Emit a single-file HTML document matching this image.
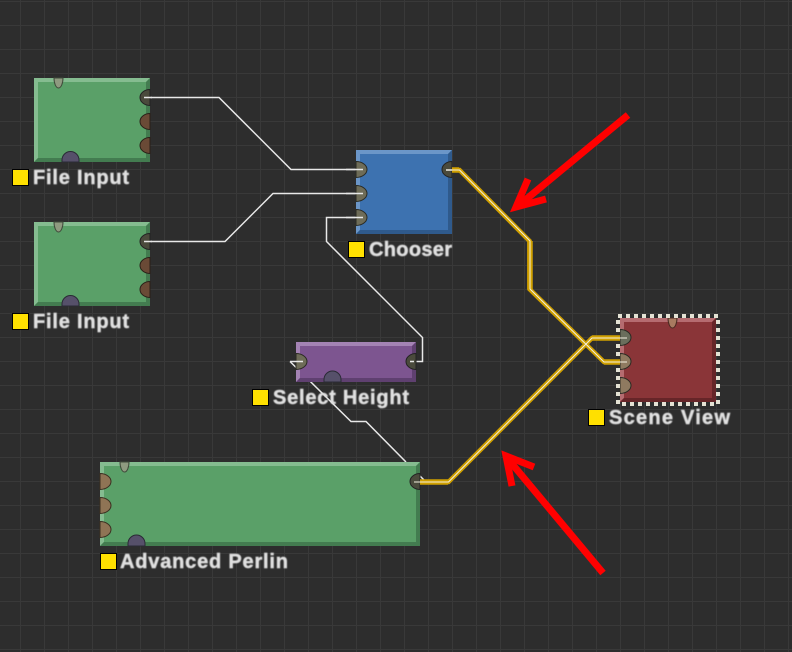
<!DOCTYPE html>
<html><head><meta charset="utf-8"><style>
html,body{margin:0;padding:0;background:#2d2d2d}
svg{display:block}
text{font-family:"Liberation Sans",sans-serif;font-weight:bold;font-size:20px;fill:#e0e0e0;stroke:#e0e0e0;stroke-width:.45px}
</style></head><body>
<svg width="792" height="652" viewBox="0 0 792 652" xmlns="http://www.w3.org/2000/svg">
<defs>
<pattern id="g" width="24" height="24" patternUnits="userSpaceOnUse" x="20" y="1">
<path d="M.5 0V24M0 .5H24" fill="none" stroke="#393939" stroke-width="1"/>
</pattern>
<filter id="b" x="-5%" y="-20%" width="110%" height="140%"><feGaussianBlur stdDeviation=".4"/></filter>
</defs>
<rect width="792" height="652" fill="#2d2d2d"/>
<rect width="792" height="652" fill="url(#g)"/>

<!-- wires under nodes -->
<g fill="none" stroke="#e8e8e8" stroke-width="1.500">
<path d="M150 97.500H219L291 169.500H356"/>
<path d="M150 241.500H225L273 193.500H356"/>
<path d="M356 217.500H326.500V241.500L422.500 337.500V361.500H410"/>
<path d="M290 361.500L351 421.500H366L406 462M420 476L425 481"/>
</g>

<!-- File Input 1 -->
<rect x="34" y="78" width="116" height="84" fill="#5aa068"/>
<path d="M34 78H150L146 82H38V158L34 162Z" fill="#85bc90"/>
<path d="M150 78V162H34L38 158H146V82Z" fill="#437c50"/>
<path d="M54 78A4.500 10 0 0 0 63 78Z" fill="#8f9a80" stroke="#3f4a3a"/>
<path d="M62 162V160A8.500 8.500 0 0 1 79 160V162Z" fill="#56506a" stroke="#2a2a35"/>
<path d="M150 89.500A10 8 0 0 0 150 105.500Z" fill="#4a4a3c" stroke="#222"/>
<path d="M150 113.500A10 8 0 0 0 150 129.500Z" fill="#6a4a36" stroke="#2a2018"/>
<path d="M150 137.500A10 8 0 0 0 150 153.500Z" fill="#6a4a36" stroke="#2a2018"/>

<!-- File Input 2 -->
<rect x="34" y="222" width="116" height="84" fill="#5aa068"/>
<path d="M34 222H150L146 226H38V302L34 306Z" fill="#85bc90"/>
<path d="M150 222V306H34L38 302H146V226Z" fill="#437c50"/>
<path d="M54 222A4.500 10 0 0 0 63 222Z" fill="#8f9a80" stroke="#3f4a3a"/>
<path d="M62 306V304A8.500 8.500 0 0 1 79 304V306Z" fill="#56506a" stroke="#2a2a35"/>
<path d="M150 233.500A10 8 0 0 0 150 249.500Z" fill="#4a4a3c" stroke="#222"/>
<path d="M150 257.500A10 8 0 0 0 150 273.500Z" fill="#6a4a36" stroke="#2a2018"/>
<path d="M150 281.500A10 8 0 0 0 150 297.500Z" fill="#6a4a36" stroke="#2a2018"/>

<!-- Chooser -->
<rect x="356" y="150" width="96" height="84" fill="#3d72b0"/>
<path d="M356 150H452L448 154H360V230L356 234Z" fill="#6b96c8"/>
<path d="M452 150V234H356L360 230H448V154Z" fill="#2f5a8c"/>
<path d="M356 161.500A11 8 0 0 1 356 177.500Z" fill="#6e6c58" stroke="#2a2a22"/>
<path d="M356 185.500A11 8 0 0 1 356 201.500Z" fill="#6e6c58" stroke="#2a2a22"/>
<path d="M356 209.500A11 8 0 0 1 356 225.500Z" fill="#6e6c58" stroke="#2a2a22"/>
<path d="M452 161.500A10 8 0 0 0 452 177.500Z" fill="#4a4a3c" stroke="#222"/>

<!-- Select Height -->
<rect x="296" y="342" width="120" height="40" fill="#7d5590"/>
<path d="M296 342H416L412 346H300V378L296 382Z" fill="#a483b4"/>
<path d="M416 342V382H296L300 378H412V346Z" fill="#5f4070"/>
<path d="M296 353.500A11 8 0 0 1 296 369.500Z" fill="#6e6c58" stroke="#2a2a22"/>
<path d="M416 353.500A10 8 0 0 0 416 369.500Z" fill="#4a4a3c" stroke="#222"/>
<path d="M324 382V379.500A8.500 8.500 0 0 1 341 379.500V382Z" fill="#56506a" stroke="#2a2a35"/>

<!-- Advanced Perlin -->
<rect x="100" y="462" width="320" height="84" fill="#5aa068"/>
<path d="M100 462H420L416 466H104V542L100 546Z" fill="#85bc90"/>
<path d="M420 462V546H100L104 542H416V466Z" fill="#437c50"/>
<path d="M120 462A4.500 10 0 0 0 129 462Z" fill="#8f9a80" stroke="#3f4a3a"/>
<path d="M128 546V543.500A8.500 8.500 0 0 1 145 543.500V546Z" fill="#56506a" stroke="#2a2a35"/>
<path d="M100 473.500A11 8 0 0 1 100 489.500Z" fill="#8f7455" stroke="#3a2e20"/>
<path d="M100 497.500A11 8 0 0 1 100 513.500Z" fill="#8f7455" stroke="#3a2e20"/>
<path d="M100 521.500A11 8 0 0 1 100 537.500Z" fill="#8f7455" stroke="#3a2e20"/>
<path d="M420 473.500A10 8 0 0 0 420 489.500Z" fill="#4a4a3c" stroke="#222"/>

<!-- Scene View -->
<rect x="620" y="318" width="96" height="84" fill="#8a3538"/>
<path d="M620 318H716L712 322H624V398L620 402Z" fill="#b56c70"/>
<path d="M716 318V402H620L624 398H712V322Z" fill="#662528"/>
<path d="M668 318A4.500 10 0 0 0 677 318Z" fill="#a87a60" stroke="#4a2a22"/>
<path d="M620 329.500A11 8 0 0 1 620 345.500Z" fill="#6a6e5c" stroke="#2a2a22"/>
<path d="M620 353.500A11 8 0 0 1 620 369.500Z" fill="#8f7a60" stroke="#2a2a22"/>
<path d="M620 377.500A11 8 0 0 1 620 393.500Z" fill="#8f7a60" stroke="#2a2a22"/>
<rect x="618" y="316" width="100" height="88" fill="none" stroke="#e4e2d4" stroke-width="4" stroke-dasharray="4 4"/>

<!-- wires over ports -->
<g fill="none" stroke="#e8e8e8" stroke-width="1.500">
<path d="M346 169.500H363M346 193.500H363M346 217.500H363"/>
<path d="M144 97.500H152M144 241.500H152"/>
<path d="M410 361.500H414M290 361.500H303"/>
<path d="M446 170H454"/>
</g>

<!-- gold wires -->
<g fill="none" stroke-linejoin="miter">
<path d="M452 170H459.500L529.500 241V289L604 362H620" stroke="#d0a000" stroke-width="4.600"/>
<path d="M420 482H448.500L592 338H620" stroke="#d0a000" stroke-width="4.600"/>
<path d="M452 170H459M530 241V289M604 362H620M420 482H448M592 338H620" stroke="#d0a000" stroke-width="5.500"/>
<path d="M446 170H459.500L530 241V289L604 362H627" stroke="#f4f0e0" stroke-width="1"/>
<path d="M414 482H448.500L592 338H627" stroke="#f4f0e0" stroke-width="1"/>
</g>

<!-- red arrows -->
<g fill="none" stroke="#ff0000" stroke-width="7">
<path d="M628 115L518 206"/>
<path d="M528 179L516 207L546 199"/>
<path d="M603 573L508 459"/>
<path d="M512 486L506 456L534 467"/>
</g>

<!-- labels -->
<g stroke="#000" stroke-width="1" fill="#ffe000">
<rect x="12.500" y="169.500" width="16" height="16"/>
<rect x="12.500" y="313.500" width="16" height="16"/>
<rect x="348.500" y="241.500" width="16" height="16"/>
<rect x="252.500" y="389.500" width="16" height="16"/>
<rect x="100.500" y="553.500" width="16" height="16"/>
<rect x="588.500" y="409.500" width="16" height="16"/>
</g>
<g filter="url(#b)">
<text x="33" y="184" textLength="96">File Input</text>
<text x="33" y="328" textLength="96">File Input</text>
<text x="369" y="256" textLength="83">Chooser</text>
<text x="273" y="404" textLength="136">Select Height</text>
<text x="120" y="568" textLength="168">Advanced Perlin</text>
<text x="609" y="424" textLength="121">Scene View</text>
</g>
</svg>
</body></html>
